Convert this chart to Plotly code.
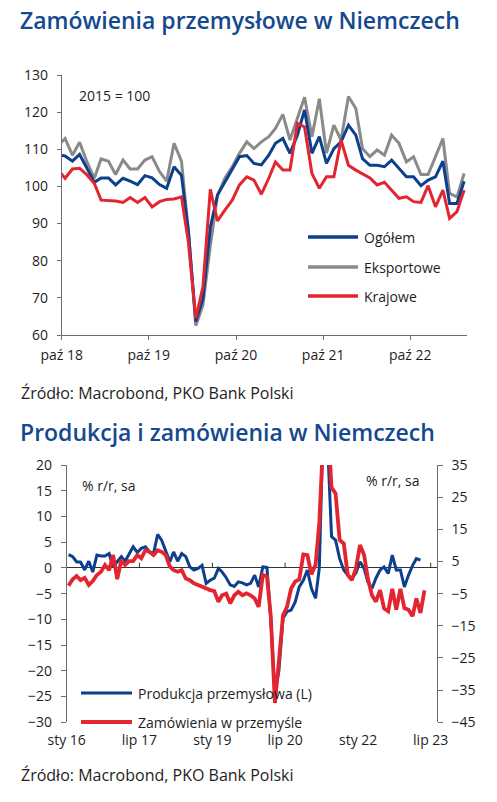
import pandas as pd
import plotly.graph_objects as go

# ---------------- data: top chart (Sep 2018 .. May 2023, monthly, 2015=100) ----------------
top_start = "2018-09-01"
ogolem = [108.5, 108.2, 106.8, 108.6, 104.9, 101.1, 102.3, 102.3, 100.4, 102.2, 101.4, 100.5,
          102.9, 102.3, 100.5, 99.5, 105.3, 103.0, 88.0, 63.6, 69.8, 89.0, 97.7, 101.3,
          104.9, 108.0, 108.3, 106.2, 105.8, 108.4, 111.6, 112.9, 108.9, 113.8, 120.6, 108.9,
          113.4, 106.2, 110.2, 112.0, 116.5, 113.8, 107.5, 105.7, 105.7, 105.3, 107.1, 104.9,
          102.6, 102.6, 100.2, 101.7, 102.6, 106.8, 95.4, 95.4, 101.4]
eksportowe = [111.0, 112.9, 108.4, 111.9, 106.6, 102.2, 107.4, 106.8, 103.2, 107.1, 104.7, 104.7,
              107.1, 108.0, 104.0, 101.4, 111.6, 106.8, 88.0, 62.5, 68.0, 84.0, 97.5, 102.2,
              105.3, 108.9, 112.0, 110.2, 112.0, 113.4, 115.6, 119.4, 112.5, 118.3, 124.0, 113.4,
              123.6, 109.0, 116.5, 112.5, 124.2, 121.0, 110.2, 108.0, 109.8, 108.4, 113.8, 111.6,
              106.6, 108.0, 103.2, 103.2, 108.0, 112.9, 98.1, 97.2, 103.5]
krajowe = [104.5, 102.2, 104.7, 104.9, 103.1, 100.8, 96.3, 96.3, 96.1, 95.7, 97.0, 95.7,
           97.0, 94.5, 95.9, 96.5, 96.6, 97.2, 85.0, 64.5, 73.0, 99.2, 90.7, 93.6,
           96.3, 100.4, 102.6, 101.7, 97.9, 102.2, 106.6, 104.4, 104.4, 117.0, 116.0, 103.5,
           99.5, 102.6, 102.6, 112.5, 105.7, 104.4, 103.5, 102.3, 100.4, 101.1, 99.0, 96.8,
           97.2, 95.9, 95.7, 100.2, 94.5, 99.0, 91.4, 93.2, 99.0]
top_tickvals = ["2018-10-01", "2019-10-01", "2020-10-01", "2021-10-01", "2022-10-01"]
top_ticktext = ["paź 18", "paź 19", "paź 20", "paź 21", "paź 22"]
top_yticks = [60, 70, 80, 90, 100, 110, 120, 130]

# ---------------- data: bottom chart (Jan 2016 .., % r/r, sa) ----------------
bottom_start = "2016-01-01"
produkcja = [2.6, 2.2, 1.2, 1.1, -0.4, 1.3, -0.8, 2.5, 2.3, 2.3, 2.8, 0.2,
             1.2, 2.2, 1.3, 2.6, 4.1, 3.0, 3.8, 4.1, 3.1, 2.8, 6.5, 5.4,
             3.1, 1.2, 3.1, 1.3, 2.8, 2.2, 0.2, -0.4, -0.1, 0.5, -3.0, -2.4,
             -2.0, -0.1, -0.8, -1.9, -3.3, -3.6, -2.7, -2.9, -3.3, -3.0, -1.4, -3.7,
             0.2, 0.1, -10.0, -24.5, -20.0, -9.8, -8.5, -8.2, -6.6, -3.7, -2.4, -0.4,
             -4.0, -5.9, 0.0, 30.0, 25.0, 6.1, 5.4, 1.8, -0.4, -1.4, -2.0, -1.0,
             1.2, -0.1, -2.7, -4.0, -2.0, -0.4, 0.2, -1.1, 2.5, -0.4, -0.4, -3.7,
             -1.4, 0.5, 1.8, 1.5]
zamowienia = [-2.5, -0.5, 0.5, -0.8, -0.1, -2.3, -1.1, 0.8, 1.8, 3.9, 2.3, 7.0,
              -0.5, 5.4, 3.9, 5.1, 5.1, 7.0, 6.0, 8.5, 8.0, 7.0, 8.5, 8.0,
              7.0, 3.4, 2.3, 1.8, 2.3, -0.3, -0.8, -1.8, -2.3, -2.9, -3.4, -3.9,
              -4.2, -7.5, -5.5, -5.0, -8.0, -5.5, -4.4, -5.5, -4.9, -5.5, -6.5, -9.1,
              0.8, 0.3, -12.0, -39.0, -26.0, -11.7, -9.1, -3.4, -1.2, -0.6, 7.2, 7.0,
              1.0, 4.0, 17.0, 45.0, 50.0, 28.0, 26.2, 11.7, 10.6, 0.8, -0.8, 2.8,
              10.1, 7.0, -0.3, -5.5, -7.5, -3.9, -9.6, -10.5, -3.5, -10.0, -3.5, -9.5,
              -10.0, -12.0, -6.5, -11.0, -4.0]
bot_tickvals = ["2016-01-01", "2017-07-01", "2019-01-01", "2020-07-01", "2022-01-01", "2023-07-01"]
bot_ticktext = ["sty 16", "lip 17", "sty 19", "lip 20", "sty 22", "lip 23"]
left_ticks = [20, 15, 10, 5, 0, -5, -10, -15, -20, -25, -30]
right_ticks = [35, 25, 15, 5, -5, -15, -25, -35, -45]

# ---------------- styling ----------------
W, H = 497, 802
BLUE = "#0c3f8e"
GREY = "#8a8a8a"
RED = "#e32530"
TITLE = "#15498f"
TXT = "#1e1e1e"
FONT = "Open Sans"


def px(x):
    return x / W


def py(y):
    return 1 - y / H


mid = pd.Timedelta(days=14)
top_dates = pd.date_range(top_start, periods=len(ogolem), freq="MS") + mid
prod_dates = pd.date_range(bottom_start, periods=len(produkcja), freq="MS") + mid
ord_dates = pd.date_range(bottom_start, periods=len(zamowienia), freq="MS") + mid

fig = go.Figure()
fig.add_trace(go.Scatter(x=top_dates, y=eksportowe, name="Eksportowe", mode="lines",
                         line=dict(color=GREY, width=3), xaxis="x", yaxis="y"))
fig.add_trace(go.Scatter(x=top_dates, y=ogolem, name="Ogółem", mode="lines",
                         line=dict(color=BLUE, width=3), xaxis="x", yaxis="y"))
fig.add_trace(go.Scatter(x=top_dates, y=krajowe, name="Krajowe", mode="lines",
                         line=dict(color=RED, width=3), xaxis="x", yaxis="y"))
fig.add_trace(go.Scatter(x=prod_dates, y=produkcja, name="Produkcja przemysłowa (L)", mode="lines",
                         line=dict(color=BLUE, width=3), xaxis="x2", yaxis="y2"))
fig.add_trace(go.Scatter(x=ord_dates, y=zamowienia, name="Zamówienia w przemyśle", mode="lines",
                         line=dict(color=RED, width=3.8), xaxis="x2", yaxis="y3"))

tickfont = dict(family=FONT, size=14, color=TXT)
AX = "#6e6e6e"

fig.update_layout(
    template="none",
    width=W, height=H, margin=dict(l=0, r=0, t=0, b=0, autoexpand=False),
    paper_bgcolor="white", plot_bgcolor="white", showlegend=False,
    font=dict(family=FONT, color=TXT),
    xaxis=dict(domain=[px(61.7), px(467)], anchor="y", type="date", automargin=False,
               range=["2018-10-01", "2023-05-27"], tickvals=top_tickvals, ticktext=top_ticktext,
               showgrid=False, zeroline=False, showline=True, linecolor=AX, linewidth=1,
               ticks="outside", ticklen=4, tickcolor=AX, tickfont=tickfont, ticklabelstandoff=3),
    yaxis=dict(domain=[py(335), py(75)], anchor="x", range=[60, 130], tickvals=top_yticks,
               automargin=False,
               showgrid=False, zeroline=False, showline=True, linecolor=AX, linewidth=1,
               ticks="outside", ticklen=4, tickcolor=AX, tickfont=tickfont, ticklabelstandoff=6),
    xaxis2=dict(domain=[px(66.7), px(436.7)], anchor="y2", type="date", automargin=False,
                range=["2016-01-01", "2023-08-15"], tickvals=bot_tickvals, ticktext=bot_ticktext,
                showgrid=False, zeroline=False, showline=False, ticks="",
                tickfont=tickfont, ticklabelstandoff=8),
    yaxis2=dict(domain=[py(722.3), py(465)], anchor="x2", range=[-30, 20], tickvals=left_ticks,
                automargin=False,
                showgrid=False, zeroline=True, zerolinecolor="#333333", zerolinewidth=1,
                showline=True, linecolor=AX, linewidth=1,
                ticks="outside", ticklen=5, tickcolor=AX, tickfont=tickfont, ticklabelstandoff=6),
    yaxis3=dict(overlaying="y2", anchor="x2", side="right", range=[-45, 35], tickvals=right_ticks,
                automargin=False,
                showgrid=False, zeroline=False, showline=True, linecolor=AX, linewidth=1,
                ticks="outside", ticklen=5, tickcolor=AX, tickfont=tickfont, ticklabelstandoff=6),
)

# small tick marks on the zero line of the lower chart
shapes = []
for tv in bot_tickvals[1:]:
    shapes.append(dict(type="line", xref="x2", yref="y2", x0=tv, x1=tv, y0=0, y1=1,
                       line=dict(color="#333333", width=1)))

# manual legends
legend_top = [("Ogółem", BLUE, 237), ("Eksportowe", GREY, 267), ("Krajowe", RED, 296)]
legend_bot = [("Produkcja przemysłowa (L)", BLUE, 693, 3), ("Zamówienia w przemyśle", RED, 722, 4)]
annotations = []
for name, col, yy in legend_top:
    shapes.append(dict(type="line", xref="paper", yref="paper", x0=px(308), x1=px(358),
                       y0=py(yy), y1=py(yy), line=dict(color=col, width=3.5)))
    annotations.append(dict(text=name, xref="paper", yref="paper", x=px(362), y=py(yy),
                            xanchor="left", yanchor="middle", showarrow=False,
                            font=dict(family=FONT, size=14, color=TXT)))
for name, col, yy, wd in legend_bot:
    shapes.append(dict(type="line", xref="paper", yref="paper", x0=px(81), x1=px(132),
                       y0=py(yy), y1=py(yy), line=dict(color=col, width=wd)))
    annotations.append(dict(text=name, xref="paper", yref="paper", x=px(136), y=py(yy),
                            xanchor="left", yanchor="middle", showarrow=False,
                            font=dict(family=FONT, size=14, color=TXT)))

# titles, notes, sources
annotations += [
    dict(text="Zamówienia przemysłowe w Niemczech", xref="paper", yref="paper", x=px(18), y=py(20),
         xanchor="left", yanchor="middle", showarrow=False,
         font=dict(family=FONT, size=23, color=TITLE, weight=600)),
    dict(text="2015 = 100", xref="paper", yref="paper", x=px(77), y=py(95),
         xanchor="left", yanchor="middle", showarrow=False, font=dict(family=FONT, size=14, color=TXT)),
    dict(text="Źródło: Macrobond, PKO Bank Polski", xref="paper", yref="paper", x=px(19), y=py(393),
         xanchor="left", yanchor="middle", showarrow=False, font=dict(family=FONT, size=16, color=TXT)),
    dict(text="Produkcja i zamówienia w Niemczech", xref="paper", yref="paper", x=px(18), y=py(432),
         xanchor="left", yanchor="middle", showarrow=False,
         font=dict(family=FONT, size=23, color=TITLE, weight=600)),
    dict(text="% r/r, sa", xref="paper", yref="paper", x=px(80), y=py(485),
         xanchor="left", yanchor="middle", showarrow=False, font=dict(family=FONT, size=14, color=TXT)),
    dict(text="% r/r, sa", xref="paper", yref="paper", x=px(422), y=py(480),
         xanchor="right", yanchor="middle", showarrow=False, font=dict(family=FONT, size=14, color=TXT)),
    dict(text="Źródło: Macrobond, PKO Bank Polski", xref="paper", yref="paper", x=px(19), y=py(775),
         xanchor="left", yanchor="middle", showarrow=False, font=dict(family=FONT, size=16, color=TXT)),
]
fig.update_layout(shapes=shapes, annotations=annotations)

fig.write_html("out.html", config={"displayModeBar": False},
               post_script="document.body.style.margin='0';document.body.style.padding='0';")
